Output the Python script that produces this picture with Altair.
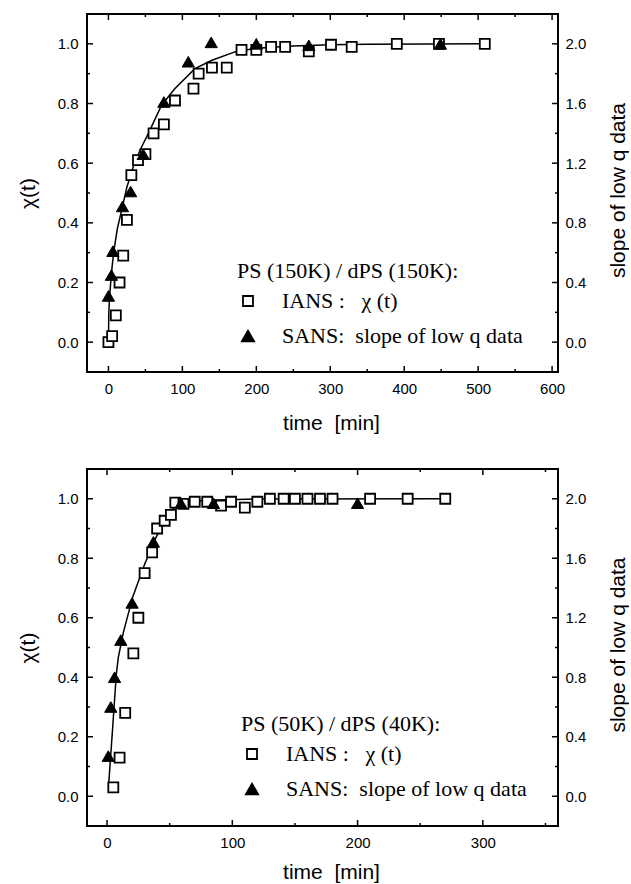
import altair as alt
import pandas as pd

# ---------------- data ----------------
# top panel: PS (150K) / dPS (150K)
top_ians_t = [0, 5, 10, 15, 20, 25, 31, 40, 50, 61, 75, 90, 115, 122, 140, 160,
              180, 200, 220, 239, 271, 301, 329, 390, 447, 509]
top_ians_chi = [0.0, 0.02, 0.09, 0.2, 0.29, 0.41, 0.56, 0.61, 0.63, 0.70, 0.73, 0.81,
                0.85, 0.90, 0.92, 0.92, 0.98, 0.98, 0.99, 0.99, 0.975, 0.997, 0.99,
                1.0, 1.0, 1.0]
top_sans_t = [0, 4, 6, 19, 30, 47, 75, 108, 139, 200, 271, 449]
top_sans_slope = [0.31, 0.45, 0.61, 0.91, 1.01, 1.26, 1.61, 1.88, 2.01, 2.0, 1.99, 2.0]
top_fit_t = [0, 0.5, 1.5, 4, 7, 12, 19, 25, 35, 45, 55, 72, 90, 117, 140, 171, 200,
             250, 300, 350, 510]
top_fit_chi = [0.0, 0.10, 0.15, 0.23, 0.30, 0.38, 0.455, 0.52, 0.60, 0.655, 0.705,
               0.795, 0.85, 0.917, 0.945, 0.973, 0.985, 0.993, 0.997, 0.999, 1.0]

# bottom panel: PS (50K) / dPS (40K)
bot_ians_t = [5, 10, 14.5, 21, 25, 30, 36, 40, 46, 51, 54.5, 61, 70, 80, 91, 99, 110,
              120, 130, 141, 150, 160, 170, 180, 210, 240, 270]
bot_ians_chi = [0.03, 0.13, 0.28, 0.48, 0.60, 0.75, 0.82, 0.90, 0.926, 0.946, 0.987,
                0.983, 0.99, 0.99, 0.977, 0.99, 0.97, 0.99, 1.0, 1.0, 1.0, 1.0, 1.0,
                1.0, 1.0, 1.0, 1.0]
bot_sans_t = [1, 3, 6, 11, 20, 37, 59, 85, 200]
bot_sans_slope = [0.27, 0.60, 0.80, 1.05, 1.30, 1.71, 1.97, 1.97, 1.97]
bot_fit_t = [1.3, 4.4, 7.4, 9, 13, 20.5, 30, 38, 46, 54, 65, 80, 120, 270]
bot_fit_chi = [0.04, 0.225, 0.41, 0.467, 0.55, 0.67, 0.78, 0.86, 0.93, 0.975, 0.99,
               0.995, 0.999, 1.0]

top_x_domain = [-29, 608]
top_x_major = [0, 100, 200, 300, 400, 500, 600]
top_x_minor = [50, 150, 250, 350, 450, 550]
bot_x_domain = [-16, 360]
bot_x_major = [0, 100, 200, 300]
bot_x_minor = [50, 150, 250, 350]

chi_domain = [-0.1, 1.1]
chi_major = [0.0, 0.2, 0.4, 0.6, 0.8, 1.0]
chi_minor = [-0.1, 0.1, 0.3, 0.5, 0.7, 0.9]
slope_domain = [-0.2, 2.2]
slope_major = [0.0, 0.4, 0.8, 1.2, 1.6, 2.0]

top_title = "PS (150K) / dPS (150K):"
bot_title = "PS (50K) / dPS (40K):"
NB = "\u00a0"
LAB_IANS = "IANS :" + NB * 3 + "\u03c7" + NB + "(t)"
LAB_SANS = "SANS:" + NB * 2 + "slope of low q data"

SERIF = "Liberation Serif"
SANS_F = "Liberation Sans"
W = 471


def panel(ians_t, ians_chi, sans_t, sans_slope, fit_t, fit_chi, xdom, xmajor, xminor,
          ltitle, lx, ly, H, xtitle_y):
    ians = pd.DataFrame({"t": ians_t, "chi": ians_chi, "series": LAB_IANS})
    sans = pd.DataFrame({"t": sans_t, "slope": sans_slope, "series": LAB_SANS})
    fit = pd.DataFrame({"t": fit_t, "chi": fit_chi})
    xmaj = pd.DataFrame({"v": xmajor})
    xmin = pd.DataFrame({"v": xminor})
    ymaj = pd.DataFrame({"v": chi_major})
    ymin = pd.DataFrame({"v": chi_minor})

    xs = alt.Scale(domain=xdom, nice=False, zero=False)
    ys = alt.Scale(domain=chi_domain, nice=False, zero=False)
    ys2 = alt.Scale(domain=slope_domain, nice=False, zero=False)

    xaxis = alt.Axis(values=xmajor, format="d", ticks=False, domain=False, grid=False,
                     labelFont=SANS_F, labelFontSize=15, labelColor="black", labelPadding=9,
                     title="time" + NB * 2 + "[min]", titleFont=SANS_F, titleFontSize=21,
                     titleFontWeight="normal", titleColor="black", titleX=244,
                     titleY=xtitle_y, titleBaseline="alphabetic", titleAlign="center")
    yaxis = alt.Axis(values=chi_major, format=".1f", ticks=False, domain=False, grid=False,
                     orient="left", labelFont=SANS_F, labelFontSize=15, labelColor="black",
                     labelPadding=9, title="\u03c7(t)", titleFont=SANS_F, titleFontSize=21,
                     titleFontWeight="normal", titleColor="black", titleX=-59,
                     titleY=H / 2, titleBaseline="middle", titleAlign="center")
    y2axis = alt.Axis(values=slope_major, format=".1f", ticks=False, domain=False,
                      grid=False, orient="right", labelFont=SANS_F, labelFontSize=15,
                      labelColor="black", labelPadding=7, title="slope of low q data",
                      titleFont=SANS_F, titleFontSize=21, titleFontWeight="normal",
                      titleColor="black", titleAngle=270, titleX=60, titleY=H / 2 - 3,
                      titleBaseline="middle", titleAlign="center")

    dom = [LAB_IANS, LAB_SANS]
    shape_scale = alt.Scale(domain=dom, range=["square", "triangle-up"])
    fill_scale = alt.Scale(domain=dom, range=["white", "black"])
    stroke_scale = alt.Scale(domain=dom, range=["black", "black"])
    size_scale = alt.Scale(domain=dom, range=[100, 150])
    legend = alt.Legend(orient="none", legendX=lx, legendY=ly, title=ltitle,
                        titleFont=SERIF, titleFontSize=22, titleFontWeight="normal",
                        titleColor="black", titlePadding=7, titleLimit=500,
                        labelFont=SERIF, labelFontSize=22, labelColor="black",
                        labelLimit=500, labelOffset=23, symbolOffset=0,
                        symbolStrokeWidth=1.8, rowPadding=13, padding=0)

    enc_leg = dict(
        shape=alt.Shape("series:N", scale=shape_scale, legend=legend),
        fill=alt.Fill("series:N", scale=fill_scale, legend=legend),
        stroke=alt.Stroke("series:N", scale=stroke_scale, legend=legend),
        size=alt.Size("series:N", scale=size_scale, legend=legend),
    )

    line = alt.Chart(fit).mark_line(color="black", strokeWidth=1.5).encode(
        x=alt.X("t:Q", scale=xs, axis=xaxis),
        y=alt.Y("chi:Q", scale=ys, axis=yaxis),
    )
    squares = alt.Chart(ians).mark_point(filled=True, strokeWidth=1.8, opacity=1).encode(
        x=alt.X("t:Q", scale=xs, axis=xaxis),
        y=alt.Y("chi:Q", scale=ys, axis=None),
        **enc_leg,
    )
    tris = alt.Chart(sans).mark_point(filled=True, strokeWidth=1, opacity=1).encode(
        x=alt.X("t:Q", scale=xs, axis=xaxis),
        y=alt.Y("slope:Q", scale=ys2, axis=y2axis),
        **enc_leg,
    )

    def xticks(df, length):
        b = alt.Chart(df).mark_rule(color="black", strokeWidth=1.5).encode(
            x=alt.X("v:Q", scale=xs, axis=xaxis), y=alt.value(H), y2=alt.value(H - length))
        t = alt.Chart(df).mark_rule(color="black", strokeWidth=1.5).encode(
            x=alt.X("v:Q", scale=xs, axis=xaxis), y=alt.value(0), y2=alt.value(length))
        return [b, t]

    def yticks(df, length):
        l = alt.Chart(df).mark_rule(color="black", strokeWidth=1.5).encode(
            y=alt.Y("v:Q", scale=ys, axis=None), x=alt.value(0), x2=alt.value(length))
        r = alt.Chart(df).mark_rule(color="black", strokeWidth=1.5).encode(
            y=alt.Y("v:Q", scale=ys, axis=None), x=alt.value(W), x2=alt.value(W - length))
        return [l, r]

    layers = [line] + xticks(xmaj, 6) + xticks(xmin, 3) + yticks(ymaj, 6) + \
        yticks(ymin, 3) + [squares, tris]
    return alt.layer(*layers).resolve_scale(y="independent").properties(width=W, height=H)


top = panel(top_ians_t, top_ians_chi, top_sans_t, top_sans_slope, top_fit_t, top_fit_chi,
            top_x_domain, top_x_major, top_x_minor, top_title, 150, 247, 358, 57)
bot = panel(bot_ians_t, bot_ians_chi, bot_sans_t, bot_sans_slope, bot_fit_t, bot_fit_chi,
            bot_x_domain, bot_x_major, bot_x_minor, bot_title, 154, 245, 357, 52)

chart = alt.vconcat(top, bot, spacing=33).resolve_scale(
    x="independent", shape="independent", fill="independent", stroke="independent",
    size="independent"
).resolve_legend(shape="independent", fill="independent", stroke="independent",
                 size="independent").properties(
    padding={"left": 16, "top": 12, "right": 0, "bottom": 0},
    background="white",
).configure_view(stroke="black", strokeWidth=2)

chart.save("out.html", embed_options={"renderer": "svg", "actions": False})
